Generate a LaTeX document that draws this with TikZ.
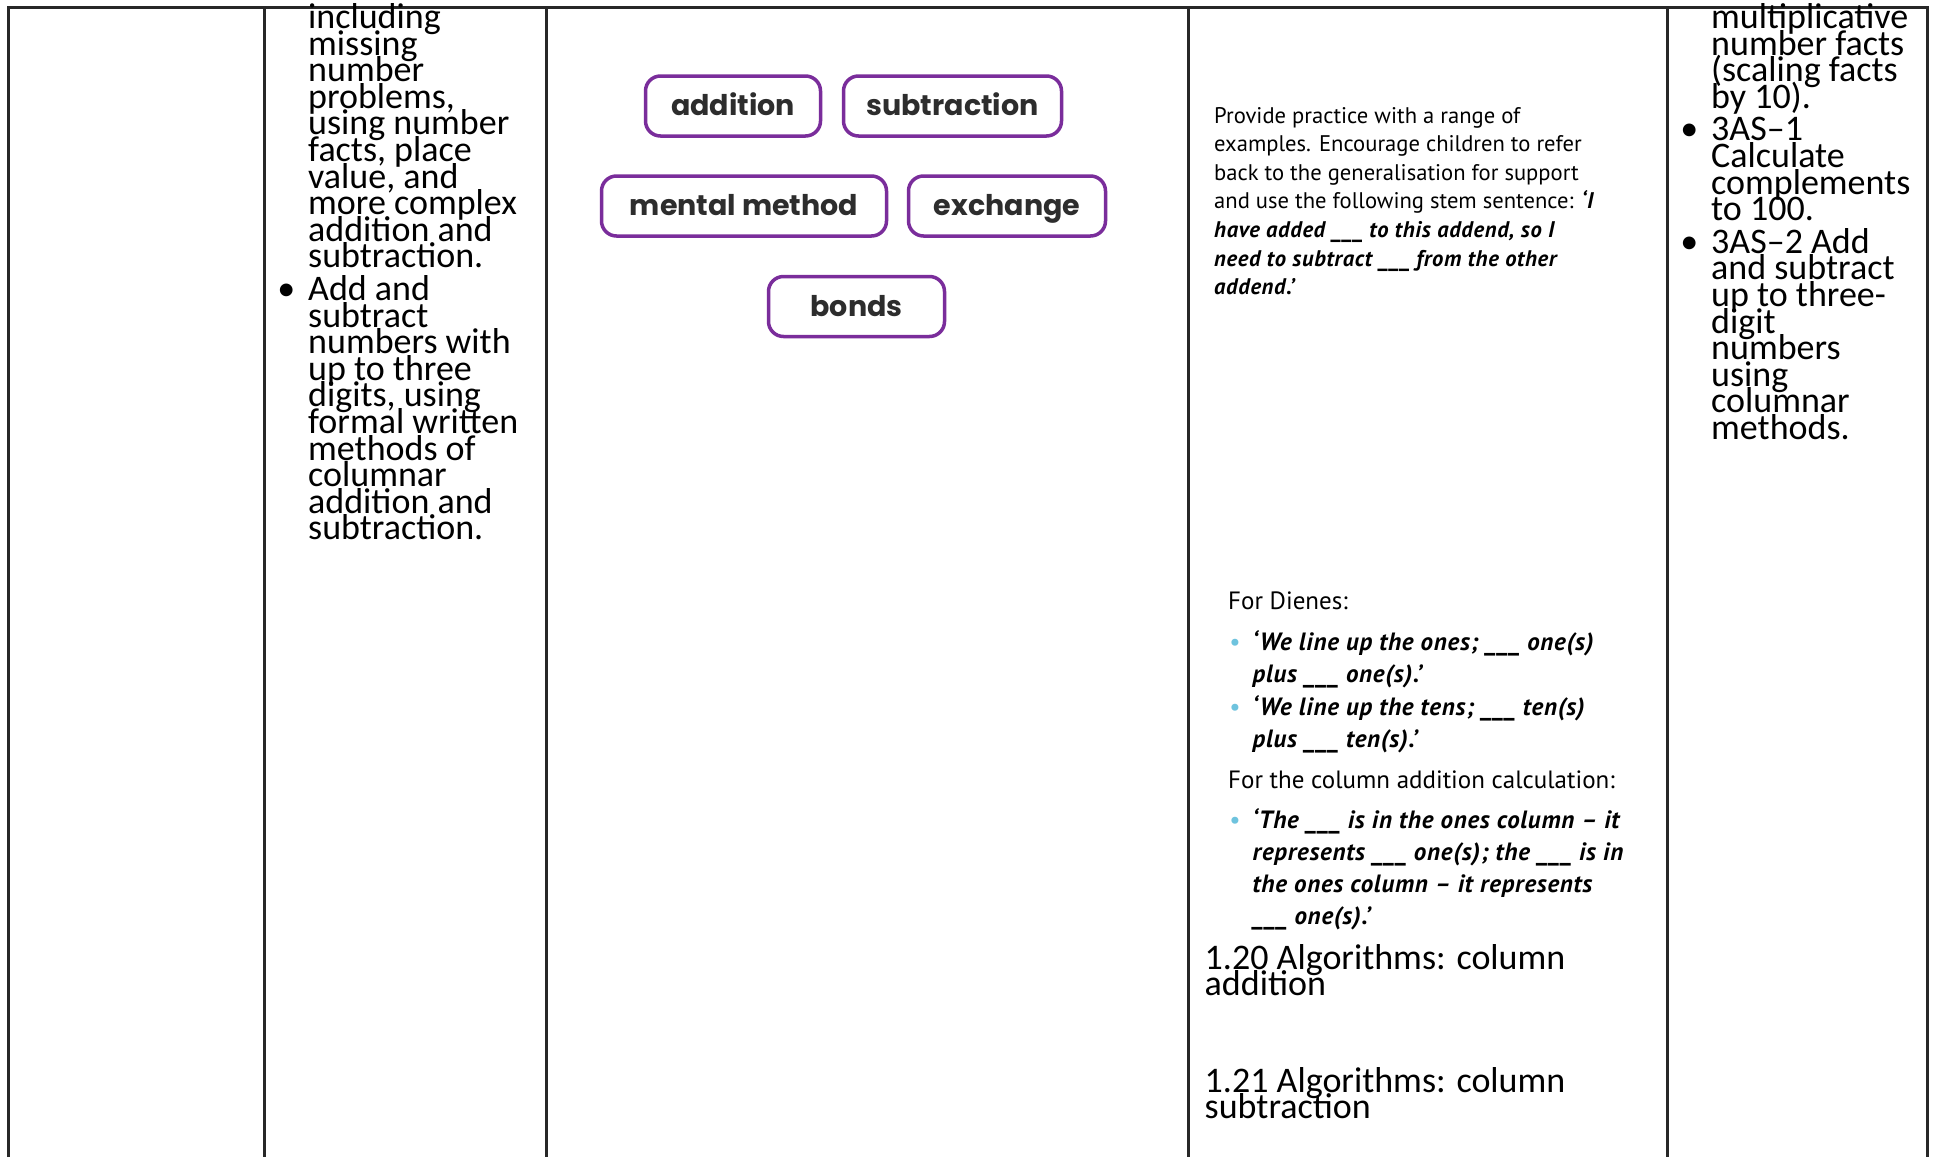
\documentclass[tikz,border=0pt]{standalone}
\usepackage{fontspec}
\setmainfont{Carlito}
\newfontfamily\notefont{PT Sans}
\newfontfamily\notebi{PT Sans Bold Italic}[LetterSpace=3]
\newfontfamily\boxfont{Poppins}
\definecolor{gridgray}{RGB}{40,40,40}
\definecolor{wordpurple}{RGB}{122,45,155}
\definecolor{wordtext}{RGB}{45,45,45}
\definecolor{dotblue}{RGB}{110,195,222}
\newcommand{\colfont}{\fontsize{36}{26.6}\selectfont\lineskiplimit=-100pt\raggedright}
\newcommand{\notesmall}{\notefont\fontsize{22.6}{28.6}\selectfont\lineskiplimit=-100pt\raggedright}
\newcommand{\notebig}{\notefont\fontsize{25}{32}\selectfont\lineskiplimit=-100pt\raggedright}
\newcommand{\bi}{\notebi}
\newcommand{\cbul}{\leavevmode\llap{\textbullet\hspace{13pt}}}
\newcommand{\bbul}{\leavevmode\llap{\notefont\textcolor{dotblue}{\textbullet}\hspace{12pt}}}
\newcommand{\blank}{\_\_\_}
\begin{document}
\begin{tikzpicture}[x=1pt,y=-1pt,
  grid/.style={draw=gridgray, line width=3pt},
  word/.style={draw=wordpurple, line width=3.5pt, rounded corners=15pt,
    minimum height=60pt, inner sep=0pt, text=wordtext,
    text height=21pt, text depth=2pt,
    font={\boxfont\bfseries\fontsize{28.5}{31}\selectfont}},
  coltext/.style={anchor=base west, inner sep=0pt, align=left},
]
\useasboundingbox (0,0) rectangle (1933,1157);
\fill[white] (0,0) rectangle (1933,1157);

% table grid
\draw[grid] (8.5,1157) -- (8.5,7) -- (1927,7) -- (1927,1157);
\foreach \cx in {264,546.5,1188.5,1667} {
  \draw[grid] (\cx,7) -- (\cx,1157);
}

% column 2
\node[coltext] (col2) at (308,28.5) {\parbox[t]{250pt}{\colfont
including\\ missing\\ number\\ problems,\\ using number\\ facts, place\\ value, and\\ more complex\\ addition and\\ subtraction.\\[6pt]
\cbul Add and\\ subtract\\ numbers with\\ up to three\\ digits, using\\ formal written\\ methods of\\ columnar\\ addition and\\ subtraction.}};

% column 3: vocabulary
\node[word, minimum width=175pt] (addition) at (733,106) {addition};
\node[word, minimum width=218pt] (subtraction) at (952.5,106) {subtraction};
\node[word, minimum width=285pt] (mental) at (744,206) {mental method};
\node[word, minimum width=197pt] (exchange) at (1007,206) {exchange};
\node[word, minimum width=176pt] (bonds) at (856.5,306.5) {bonds};

% column 4: notes
\node[coltext] (stem) at (1214,123) {\parbox[t]{440pt}{\notesmall
Provide practice with a range of\\
examples. Encourage children to refer\\
back to the generalisation for support\\
and use the following stem sentence: {\bi ‘I}\\
{\bi have added \blank{} to this addend, so I}\\
{\bi need to subtract \blank{} from the other}\\
{\bi addend.’}}};

\node[coltext] (dienes) at (1228,609) {\notebig For Dienes:};
\node[coltext] (ones) at (1252.5,650) {\parbox[t]{420pt}{\notebig\bi
\bbul ‘We line up the ones; \blank{} one(s)\\ plus \blank{} one(s).’}};
\node[coltext] (tens) at (1252.5,715) {\parbox[t]{420pt}{\notebig\bi
\bbul ‘We line up the tens; \blank{} ten(s)\\ plus \blank{} ten(s).’}};
\node[coltext] (colcalc) at (1228,788) {\notebig For the column addition calculation:};
\node[coltext] (onescol) at (1252.5,828) {\parbox[t]{420pt}{\notebig\bi
\bbul ‘The \blank{} is in the ones column – it\\
represents \blank{} one(s); the \blank{} is in\\
the ones column – it represents\\
\blank{} one(s).’}};

\node[coltext] (lesson20) at (1204.5,969) {\parbox[t]{420pt}{\colfont
1.20 Algorithms: column\\ addition}};
\node[coltext] (lesson21) at (1204.5,1092) {\parbox[t]{420pt}{\colfont
1.21 Algorithms: column\\ subtraction}};

% column 5
\node[coltext] (col5) at (1711,28.5) {\parbox[t]{215pt}{\colfont
multiplicative\\ number facts\\ (scaling facts\\ by 10).\\[6pt]
\cbul 3AS–1\\ Calculate\\ complements\\ to 100.\\[6pt]
\cbul 3AS–2 Add\\ and subtract\\ up to three-\\ digit\\ numbers\\ using\\ columnar\\ methods.}};
\end{tikzpicture}
\end{document}
